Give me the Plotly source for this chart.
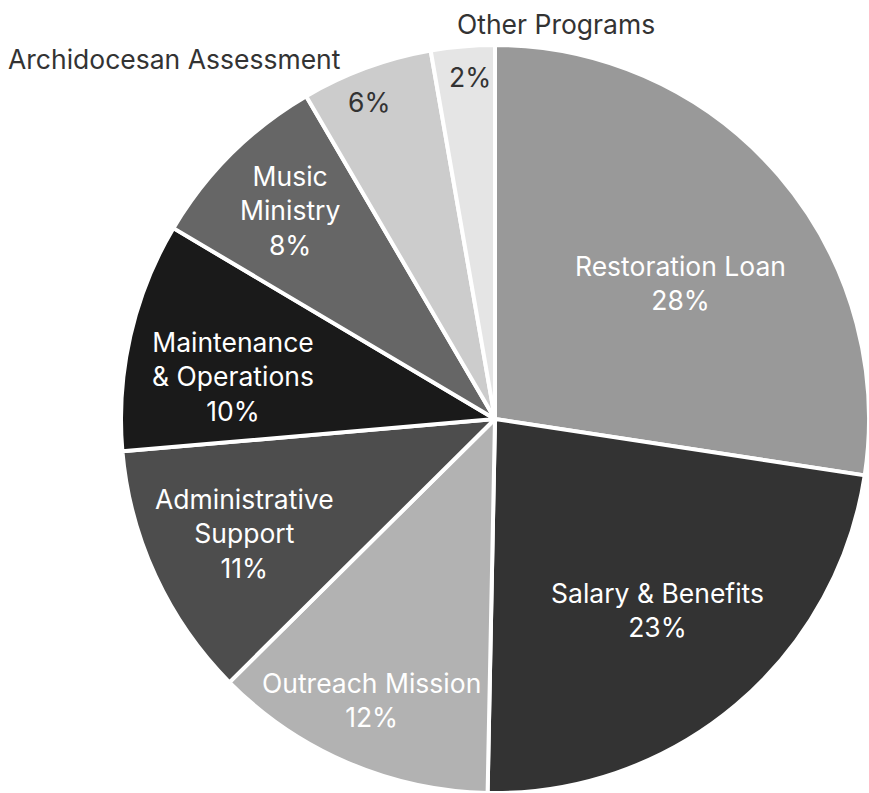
import math
import plotly.graph_objects as go

# ---- data ----
categories = ["Restoration Loan", "Salary & Benefits", "Outreach Mission",
              "Administrative Support", "Maintenance & Operations", "Music Ministry",
              "Archidocesan Assessment", "Other Programs"]
values = [27.4, 22.9, 12.25, 11.05, 9.9, 8.05, 5.67, 2.75]
pct_labels = ["28%", "23%", "12%", "11%", "10%", "8%", "6%", "2%"]
inside_names = ["Restoration Loan", "Salary & Benefits", "Outreach Mission",
                "Administrative<br>Support", "Maintenance<br>& Operations", "Music<br>Ministry",
                "", ""]

# ---- style ----
colors = ["#999999", "#333333", "#b2b2b2", "#4d4d4d", "#1a1a1a", "#666666", "#cccccc", "#e5e5e5"]
text_colors = ["white", "white", "white", "white", "white", "white", "#333333", "#333333"]
label_r = [0.614, 0.671, 0.82, 0.737, 0.71, 0.78, 0.913, 0.917]
label_dtheta = [4.4, -0.4, 0.5, 0.2, -3.6, 0.3, -1.5, 0.8]
FONT = "Inter"
FS = 26.5

W, H = 869, 793
cx, cy, R = 495.0, 419.0, 374.0

fig = go.Figure(go.Pie(
    labels=categories, values=values, sort=False, direction="clockwise", rotation=0,
    marker=dict(colors=colors, line=dict(color="white", width=4)),
    textinfo="none", hoverinfo="label+percent", showlegend=False,
    domain=dict(x=[(cx - R) / W, min(1.0, (cx + R) / W)],
                y=[max(0.0, 1 - (cy + R) / H), 1 - (cy - R) / H]),
))

total = sum(values)
cum = 0.0
annotations = []
for i, v in enumerate(values):
    mid = (cum + v / 2) / total * 360 + label_dtheta[i]
    cum += v
    th = math.radians(mid)
    px = cx + label_r[i] * R * math.sin(th)
    py = cy - label_r[i] * R * math.cos(th)
    txt = pct_labels[i] if not inside_names[i] else inside_names[i] + "<br>" + pct_labels[i]
    annotations.append(dict(x=px / W, y=1 - py / H, xref="paper", yref="paper", text=txt,
                            showarrow=False, xanchor="center", yanchor="middle",
                            font=dict(family=FONT, size=FS, color=text_colors[i])))

# outside names
annotations.append(dict(x=556 / W, y=1 - 24 / H, xref="paper", yref="paper", text=categories[7],
                        showarrow=False, xanchor="center", yanchor="middle",
                        font=dict(family=FONT, size=FS, color="#333333")))
annotations.append(dict(x=174 / W, y=1 - 59 / H, xref="paper", yref="paper", text=categories[6],
                        showarrow=False, xanchor="center", yanchor="middle",
                        font=dict(family=FONT, size=FS, color="#333333")))

fig.update_layout(width=W, height=H, margin=dict(l=0, r=0, t=0, b=0),
                  paper_bgcolor="white", plot_bgcolor="white", annotations=annotations,
                  font=dict(family=FONT))

fig.write_html("out.html", config={"displayModeBar": False},
               post_script="document.body.style.margin='0';document.body.style.overflow='hidden';")
